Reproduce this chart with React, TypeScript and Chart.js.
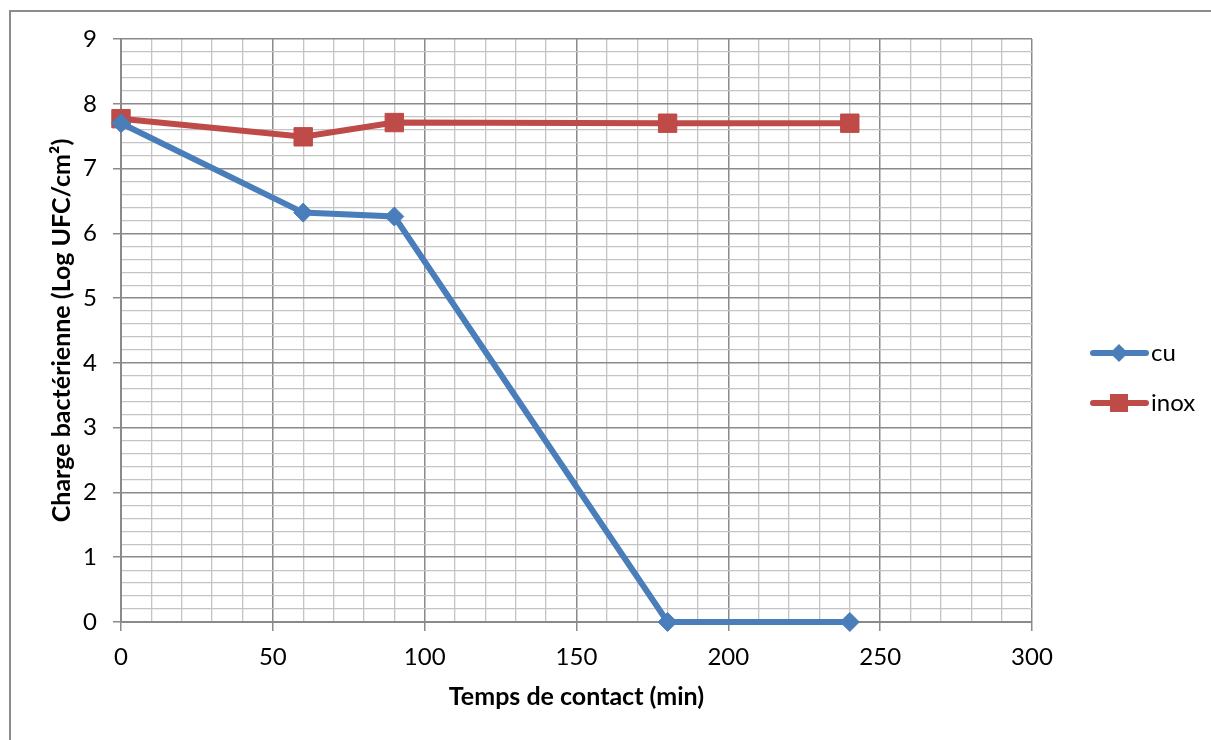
import React, { useEffect, useRef } from 'react';
import { Chart, registerables } from 'chart.js';

Chart.register(...registerables);

const timeMinutes = [0, 60, 90, 180, 240];
const cuValues = [7.7, 6.32, 6.26, 0, 0];
const inoxValues = [7.77, 7.49, 7.71, 7.7, 7.7];
const seriesNames = ['cu', 'inox'];
const seriesColors = ['#4a7ebb', '#be4b48'];
const seriesMarkers = ['rectRot', 'rect'];
const xMajorTicks = [0, 50, 100, 150, 200, 250, 300];
const yMajorTicks = [0, 1, 2, 3, 4, 5, 6, 7, 8, 9];
const xAxisTitle = 'Temps de contact (min)';
const yAxisTitle = 'Charge bactérienne (Log UFC/cm²)';

const FONT = 'Lato, "Open Sans", sans-serif';
const MAJOR = '#8a8a8a';
const MINOR = '#c4c4c4';

const isMajor = (v: number, list: number[]) => list.some((m) => Math.abs(m - v) < 1e-6);

const frameAndLegend = {
  id: 'frameAndLegend',
  beforeDraw(chart: any) {
    const ctx = chart.ctx;
    ctx.save();
    ctx.fillStyle = '#ffffff';
    ctx.fillRect(0, 0, chart.width, chart.height);
    ctx.strokeStyle = '#8c8c8c';
    ctx.lineWidth = 2;
    ctx.strokeRect(10, 11, chart.width + 20, chart.height + 20);
    ctx.restore();
  },
  afterDraw(chart: any) {
    const ctx = chart.ctx;
    ctx.save();
    chart.data.datasets.forEach((ds: any, i: number) => {
      const y = 353 + i * 50;
      ctx.strokeStyle = ds.borderColor;
      ctx.lineWidth = 6;
      ctx.lineCap = 'round';
      ctx.beginPath();
      ctx.moveTo(1093, y);
      ctx.lineTo(1146, y);
      ctx.stroke();
      ctx.fillStyle = ds.borderColor;
      ctx.beginPath();
      if (ds.pointStyle === 'rect') {
        ctx.rect(1119 - 9, y - 9, 18, 18);
      } else {
        ctx.moveTo(1119, y - 9);
        ctx.lineTo(1128, y);
        ctx.lineTo(1119, y + 9);
        ctx.lineTo(1110, y);
        ctx.closePath();
      }
      ctx.fill();
      ctx.fillStyle = '#000000';
      ctx.font = `24px ${FONT}`;
      ctx.textBaseline = 'middle';
      ctx.textAlign = 'left';
      ctx.fillText(ds.label, 1151, y);
    });
    ctx.restore();
  },
};

export default function App() {
  const ref = useRef<HTMLCanvasElement | null>(null);

  useEffect(() => {
    document.body.style.margin = '0';
    const canvas = ref.current;
    if (!canvas) return;
    const seriesValues = [cuValues, inoxValues];
    const chart = new Chart(canvas, {
      type: 'scatter',
      data: {
        datasets: seriesNames.map((name, i) => ({
          label: name,
          data: timeMinutes.map((t, j) => ({ x: t, y: seriesValues[i][j] })),
          showLine: true,
          clip: false,
          borderColor: seriesColors[i],
          backgroundColor: seriesColors[i],
          borderWidth: 6,
          pointStyle: seriesMarkers[i] as any,
          pointRadius: i === 0 ? 9.5 : 13,
          pointBorderWidth: 1,
          pointHoverRadius: i === 0 ? 9.5 : 13,
          tension: 0,
        })),
      },
      options: {
        animation: false,
        responsive: false,
        maintainAspectRatio: false,
        layout: { padding: { left: 0, top: 39, right: 179, bottom: 0 } },
        plugins: {
          legend: { display: false },
          tooltip: { enabled: false },
        },
        scales: {
          x: {
            type: 'linear',
            min: 0,
            max: 300,
            afterFit: (s: any) => {
              s.height = 118;
            },
            ticks: {
              stepSize: 10,
              autoSkip: false,
              maxRotation: 0,
              padding: 12,
              color: '#000000',
              font: { family: FONT, size: 24 },
              callback: (v: any) => (isMajor(Number(v), xMajorTicks) ? String(v) : ''),
            },
            grid: {
              color: (c: any) => (isMajor(c.tick.value, xMajorTicks) ? MAJOR : MINOR),
              lineWidth: (c: any) => (isMajor(c.tick.value, xMajorTicks) ? 1.5 : 1.3),
              tickColor: (c: any) => (isMajor(c.tick.value, xMajorTicks) ? MAJOR : 'rgba(0,0,0,0)'),
              tickLength: 9,
            },
            border: { color: MAJOR, width: 2 },
            title: {
              display: true,
              text: xAxisTitle,
              color: '#000000',
              font: { family: FONT, size: 25, weight: 'bold', lineHeight: 1.2 },
              padding: { top: 0, bottom: 28 },
            },
          },
          y: {
            type: 'linear',
            min: 0,
            max: 9,
            afterFit: (s: any) => {
              s.width = 121;
            },
            ticks: {
              stepSize: 0.2,
              autoSkip: false,
              padding: 16,
              color: '#000000',
              font: { family: FONT, size: 24 },
              callback: (v: any) => (isMajor(Number(v), yMajorTicks) ? String(Math.round(Number(v))) : ''),
            },
            grid: {
              color: (c: any) => (isMajor(c.tick.value, yMajorTicks) ? MAJOR : MINOR),
              lineWidth: (c: any) => (isMajor(c.tick.value, yMajorTicks) ? 1.5 : 1.3),
              tickColor: (c: any) => (isMajor(c.tick.value, yMajorTicks) ? MAJOR : 'rgba(0,0,0,0)'),
              tickLength: 8,
            },
            border: { color: MAJOR, width: 2 },
            title: {
              display: true,
              text: yAxisTitle,
              color: '#000000',
              font: { family: FONT, size: 25, weight: 'bold', lineHeight: 1.2 },
              padding: { top: 47, bottom: 0 },
            },
          },
        },
      },
      plugins: [frameAndLegend],
    });
    return () => chart.destroy();
  }, []);

  return (
    <div style={{ position: 'absolute', left: 0, top: 0, width: 1211, height: 740 }}>
      <canvas ref={ref} width={1211} height={740} style={{ display: 'block' }} />
    </div>
  );
}
